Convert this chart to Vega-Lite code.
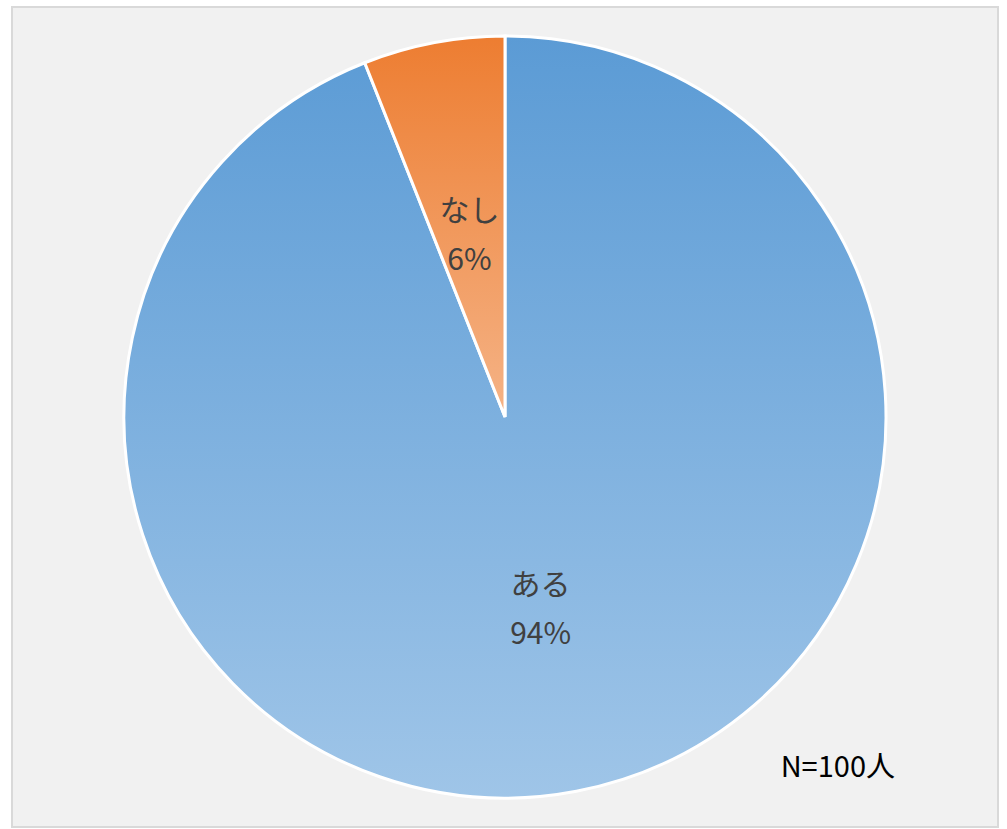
{
  "$schema": "https://vega.github.io/schema/vega-lite/v6.json",
  "width": 1007,
  "height": 829,
  "autosize": {"type": "fit", "contains": "padding"},
  "padding": {"left": 12, "top": 7, "right": 9, "bottom": 2},
  "background": "white",
  "view": {"stroke": "#d9d9d9", "strokeWidth": 2, "fill": "#f1f1f1"},
  "title": {
    "text": "N=100人",
    "orient": "bottom",
    "anchor": "end",
    "frame": "group",
    "offset": -50,
    "dx": -103,
    "baseline": "alphabetic",
    "font": "Noto Sans CJK JP",
    "fontSize": 29,
    "fontWeight": "normal",
    "color": "#000000"
  },
  "data": {
    "values": [
      {"label": "ある", "pct": 94, "text": "94%", "order": 1},
      {"label": "なし", "pct": 6, "text": "6%", "order": 2}
    ]
  },
  "encoding": {
    "theta": {"field": "pct", "type": "quantitative", "stack": true},
    "order": {"field": "order", "type": "quantitative"}
  },
  "layer": [
    {
      "mark": {"type": "arc", "outerRadius": 381, "stroke": "white", "strokeWidth": 3},
      "encoding": {
        "fill": {
          "condition": {
            "test": "datum.label === 'なし'",
            "value": {"gradient": "linear", "x1": 0, "y1": 0, "x2": 0, "y2": 1, "stops": [{"offset": 0, "color": "#ed7d31"}, {"offset": 1, "color": "#f5b386"}]}
          },
          "value": {"gradient": "linear", "x1": 0, "y1": 0, "x2": 0, "y2": 1, "stops": [{"offset": 0, "color": "#5b9bd5"}, {"offset": 1, "color": "#9fc5e8"}]}
        }
      }
    },
    {
      "mark": {"type": "text", "radius": 190, "dy": -18, "font": "Noto Sans CJK JP", "fontSize": 30, "color": "#404040", "lineHeight": 49, "baseline": "middle"},
      "encoding": {
        "text": {"field": "display", "type": "nominal"}
      },
      "transform": [{"calculate": "[datum.label, datum.text]", "as": "display"}]
    }
  ]
}
